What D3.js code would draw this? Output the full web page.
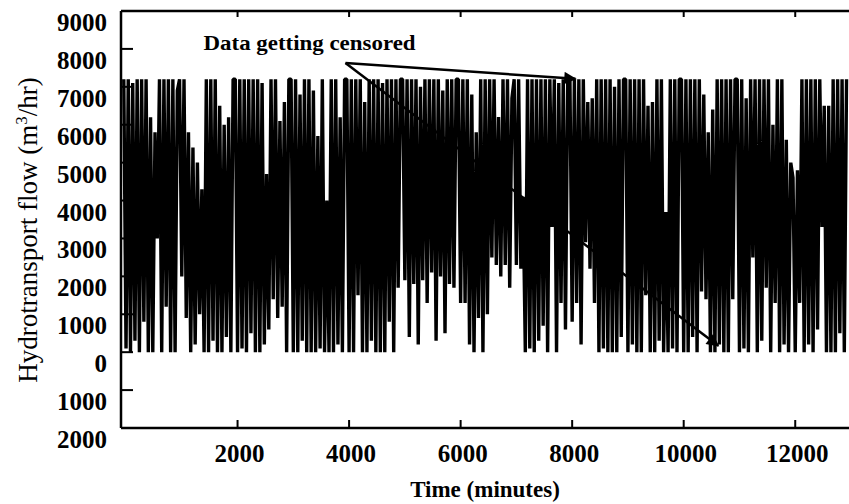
<!DOCTYPE html>
<html>
<head>
<meta charset="utf-8">
<script src="https://cdn.jsdelivr.net/npm/d3@7"></script>
<style>
  html, body { margin: 0; padding: 0; background: #fff; }
  svg text { font-family: "Liberation Serif", "Times New Roman", serif; fill: #000; }
</style>
</head>
<body>
<svg id="chart" width="849" height="504"></svg>
<script>
// hydrotransport flow, one sample every 40 minutes (m3/hr)
// rows are 1000 minutes each
let startMinute = -40;
let stepMinutes = 40;
let flow = [
  7200,100,7200,0,7100,300,7200,0,7200,800,7200,0,6200,0,5800,3000,7200,0,7200,1200,7200,0,7200,0,6900,
  7200,2000,7200,900,5800,0,5400,200,5000,1000,4300,0,7200,0,7200,300,7200,0,6500,0,6000,400,6200,0,7200,
  7200,0,7200,100,7200,0,7200,500,7200,0,7200,0,7100,200,4700,600,7200,1400,7200,900,6100,1200,6600,0,7200,
  7200,0,7200,0,6800,300,7200,0,7200,0,6900,0,5700,100,7200,0,4000,0,7200,0,7200,200,6200,0,7200,
  7200,0,7200,0,7200,1500,7200,0,6600,0,7200,300,7200,0,7200,0,7100,0,7200,800,7200,0,7200,1700,7200,
  7200,1900,7200,400,7200,1800,7200,200,7000,1900,7200,1300,7200,2100,7200,300,7200,2000,6900,500,7200,1800,7200,1700,7200,
  7200,1300,7200,1300,7200,200,6800,0,5800,900,7200,0,7200,1000,7200,2500,7200,2300,6200,2000,7200,2300,7200,1700,6700,
  7200,2300,7200,2200,4100,0,7200,100,7200,0,7200,300,7200,700,7200,0,7200,3300,7200,0,7100,1300,7200,600,7200,
  7200,800,7200,1300,7200,200,7200,2900,6600,2200,6700,1300,7200,0,7200,100,7200,0,7200,0,7000,0,7200,400,7200,
  7200,0,7200,200,7200,0,7200,0,7200,1500,6500,0,6600,0,7200,300,7200,0,3700,0,7200,100,7200,0,7200,
  7200,0,7200,0,7200,400,7200,0,7200,1600,6800,1400,5800,0,6400,0,7200,200,7200,0,7200,0,7200,1400,7200,
  7200,0,7200,100,6700,0,7200,2500,7200,0,7200,300,7200,1700,7200,0,6000,1300,7200,0,7200,200,5600,0,5000,
  4600,0,4800,1300,7200,0,7200,200,7200,0,7200,600,7200,3300,6500,0,6500,0,7200,0,7200,500,7200,0,7200
];

let xTicks = [2000, 4000, 6000, 8000, 10000, 12000];
let yTicks = [-2000, -1000, 0, 1000, 2000, 3000, 4000, 5000, 6000, 7000, 8000, 9000];

// annotation, in data units (minutes, m3/hr)
let noteText = "Data getting censored";
let noteAt = [1390, 7970];
let arrowFrom = [3935, 7630];
let arrowTips = [[8060, 7210], [10620, 170]];

let svg = d3.select("#chart");
let plotLeft = 121, plotRight = 851, plotTop = 11, plotBottom = 428;

let x = d3.scaleLinear().domain([-90, 13000]).range([plotLeft, plotRight]);
let y = d3.scaleLinear().domain([-2000, 9000]).range([plotBottom, plotTop]);

let points = flow.map((v, i) => ({t: startMinute + i * stepMinutes, v: v}));

// the signal itself - drawn heavy so the trace reads as the dense band of the scan
let line = d3.line().x(d => x(d.t)).y(d => y(d.v));
svg.append("path")
    .datum(points)
    .attr("d", line)
    .attr("fill", "none")
    .attr("stroke", "#000")
    .attr("stroke-width", 3.4)
    .attr("stroke-linejoin", "bevel");

// frame: left axis, top and bottom lines
let frame = svg.append("g").attr("stroke", "#000").attr("stroke-width", 2.5).attr("fill", "none");
frame.append("line").attr("x1", plotLeft).attr("x2", plotLeft).attr("y1", plotTop).attr("y2", plotBottom);
frame.append("line").attr("x1", plotLeft).attr("x2", plotRight).attr("y1", plotTop).attr("y2", plotTop);
frame.append("line").attr("x1", plotLeft).attr("x2", plotRight).attr("y1", plotBottom).attr("y2", plotBottom);
frame.append("line").attr("x1", plotRight).attr("x2", plotRight).attr("y1", plotTop).attr("y2", plotBottom);

// inward ticks
let ticks = svg.append("g").attr("stroke", "#000").attr("stroke-width", 2);
yTicks.forEach(d => {
    ticks.append("line").attr("x1", plotLeft).attr("x2", plotLeft + 12).attr("y1", y(d)).attr("y2", y(d));
});
xTicks.forEach(d => {
    ticks.append("line").attr("x1", x(d)).attr("x2", x(d)).attr("y1", plotBottom).attr("y2", plotBottom - 8);
    ticks.append("line").attr("x1", x(d)).attr("x2", x(d)).attr("y1", plotTop).attr("y2", plotTop + 6);
});

// tick labels (the scan shows no minus signs below zero)
svg.append("g").selectAll("text").data(yTicks).join("text")
    .attr("x", 107)
    .attr("y", d => y(d) + 20)
    .attr("text-anchor", "end")
    .attr("font-size", 25)
    .attr("font-weight", "bold")
    .text(d => Math.abs(d));

svg.append("g").selectAll("text").data(xTicks).join("text")
    .attr("x", d => x(d) + 2)
    .attr("y", 462)
    .attr("text-anchor", "middle")
    .attr("font-size", 25)
    .attr("font-weight", "bold")
    .text(d => d);

// axis titles
svg.append("text")
    .attr("x", 485).attr("y", 497)
    .attr("text-anchor", "middle")
    .attr("font-size", 23)
    .attr("font-weight", "bold")
    .text("Time (minutes)");

let yTitle = svg.append("text")
    .attr("transform", "translate(37,230) rotate(-90)")
    .attr("text-anchor", "middle")
    .attr("font-size", 27);
yTitle.append("tspan").text("Hydrotransport flow (m");
yTitle.append("tspan").attr("dy", -10).attr("font-size", 17).text("3");
yTitle.append("tspan").attr("dy", 10).text("/hr)");

// annotation with two arrows
svg.append("defs").append("marker")
    .attr("id", "head")
    .attr("viewBox", "0 0 10 10")
    .attr("refX", 9).attr("refY", 5)
    .attr("markerWidth", 6).attr("markerHeight", 5)
    .attr("markerUnits", "strokeWidth")
    .attr("orient", "auto")
  .append("path")
    .attr("d", "M0,0 L10,5 L0,10 z")
    .attr("fill", "#000");

arrowTips.forEach(tip => {
    svg.append("line")
        .attr("x1", x(arrowFrom[0])).attr("y1", y(arrowFrom[1]))
        .attr("x2", x(tip[0])).attr("y2", y(tip[1]))
        .attr("stroke", "#000")
        .attr("stroke-width", 2.5)
        .attr("marker-end", "url(#head)");
});

svg.append("text")
    .attr("x", x(noteAt[0])).attr("y", y(noteAt[1]))
    .attr("font-size", 20)
    .attr("font-weight", "bold")
    .attr("textLength", 212)
    .attr("lengthAdjust", "spacingAndGlyphs")
    .text(noteText);
</script>
</body>
</html>
